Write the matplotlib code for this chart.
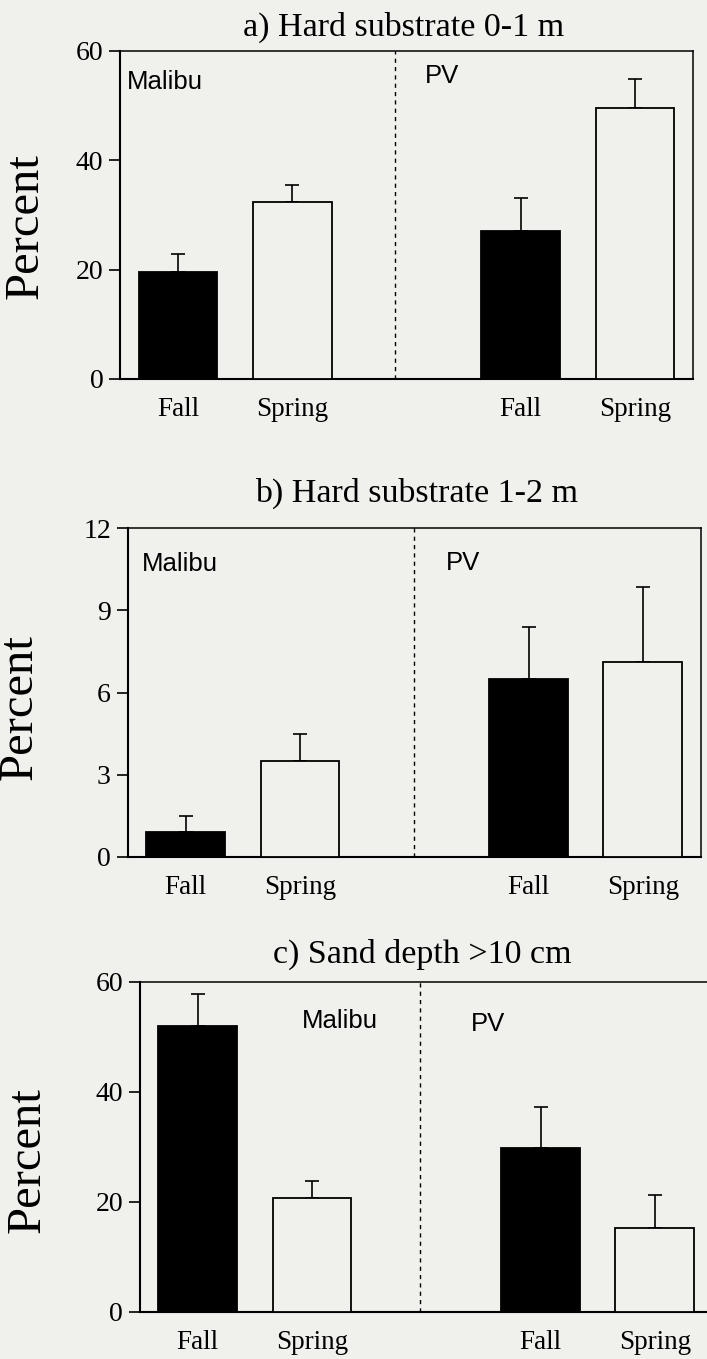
import matplotlib
matplotlib.use("Agg")
import matplotlib.pyplot as plt
import numpy as np

# ---- data ----
categories = ["Fall", "Spring", "Fall", "Spring"]
positions = [0, 1, 3, 4]
sites = ["Malibu", "PV"]

a_values = [19.6, 32.3, 27.1, 49.6]
a_errors = [3.2, 3.2, 5.9, 5.2]
b_values = [0.9, 3.5, 6.5, 7.1]
b_errors = [0.6, 1.0, 1.9, 2.75]
c_values = [51.9, 20.6, 29.8, 15.2]
c_errors = [5.8, 3.2, 7.4, 6.1]

a_ticks = [0, 20, 40, 60]
b_ticks = [0, 3, 6, 9, 12]
c_ticks = [0, 20, 40, 60]

titles = ["a) Hard substrate 0-1 m", "b) Hard substrate 1-2 m", "c) Sand depth >10 cm"]

BG = "#f0f0ec"
SERIF = "Liberation Serif"
SANS = "Liberation Sans"

W, H = 707, 1359
fig = plt.figure(figsize=(W / 100, H / 100), dpi=100)
fig.patch.set_facecolor(BG)


def px_axes(left, right, top, bottom):
    return [left / W, 1 - bottom / H, (right - left) / W, (bottom - top) / H]


panels = [
    dict(rect=px_axes(120, 693, 50.7, 379), vals=a_values, errs=a_errors, ticks=a_ticks,
         ymax=60, divider=1.895, lab=[(-0.45, 54.2), (2.16, 55.4)],
         title_xy=(404, 36), ylabel_xy=(26, 226)),
    dict(rect=px_axes(127.6, 701, 528.3, 856.7), vals=b_values, errs=b_errors, ticks=b_ticks,
         ymax=12, divider=1.996, lab=[(-0.385, 10.7), (2.28, 10.75)],
         title_xy=(417, 501.5), ylabel_xy=(20, 707)),
    dict(rect=px_axes(139.8, 712.8, 981.7, 1311.7), vals=c_values, errs=c_errors, ticks=c_ticks,
         ymax=60, divider=1.947, lab=[(0.908, 52.9), (2.394, 52.3)],
         title_xy=(422, 963), ylabel_xy=(27.5, 1160)),
]

for i, p in enumerate(panels):
    ax = fig.add_axes(p["rect"])
    ax.set_facecolor(BG)
    colors = ["black", BG, "black", BG]
    ax.bar(positions, p["vals"], width=0.69, color=colors, edgecolor="black",
           linewidth=1.3, zorder=3)
    ax.errorbar(positions, p["vals"], yerr=[np.zeros(len(p["errs"])), p["errs"]],
                fmt="none", ecolor="black", elinewidth=1.2, capsize=5,
                capthick=1.2, zorder=2)
    ax.axvline(p["divider"], color="black", linestyle=(0, (3, 3)), linewidth=1.0, zorder=1)
    ax.set_xlim(-0.508, 4.508)
    ax.set_ylim(0, p["ymax"])
    ax.set_yticks(p["ticks"])
    ax.set_yticklabels([str(t) for t in p["ticks"]], fontfamily=SERIF, fontsize=20)
    ax.set_xticks(positions)
    ax.set_xticklabels(categories, fontfamily=SERIF, fontsize=19.5)
    ax.tick_params(axis="x", length=0, pad=13)
    ax.tick_params(axis="y", direction="out", length=8, width=1.2, pad=4)
    for side in ["left", "bottom"]:
        ax.spines[side].set_linewidth(1.5)
    for side in ["top", "right"]:
        ax.spines[side].set_linewidth(1.1)
    for (tx, ty), name in zip(p["lab"], sites):
        ax.text(tx, ty, name, fontfamily=SANS, fontsize=18.5, ha="left", va="center")
    fig.text(p["title_xy"][0] / W, 1 - p["title_xy"][1] / H, titles[i],
             fontfamily=SERIF, fontsize=24.5, ha="center", va="baseline")
    fig.text(p["ylabel_xy"][0] / W, 1 - p["ylabel_xy"][1] / H, "Percent",
             fontfamily=SERIF, fontsize=35, rotation=90, ha="center", va="center")

fig.savefig("out.png", dpi=100, facecolor=BG)
